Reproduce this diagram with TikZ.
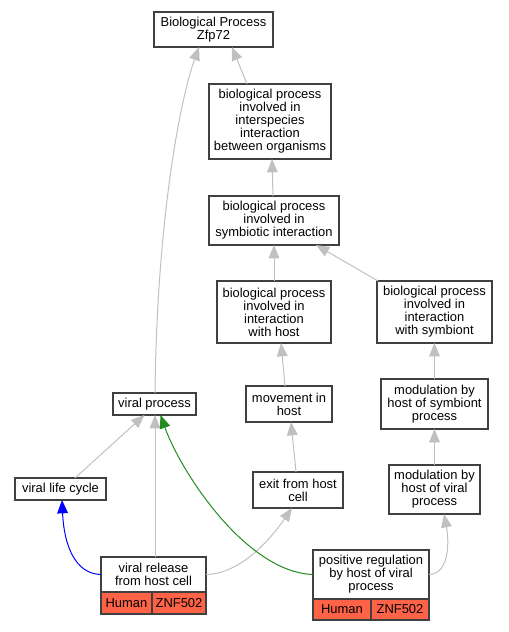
\documentclass[tikz,border=0pt]{standalone}
\usepackage{fontspec}
\setmainfont{Liberation Sans}
\usetikzlibrary{arrows.meta,calc,positioning}
\definecolor{edgegray}{HTML}{C0C0C0}
\definecolor{genered}{HTML}{FF6347}
\definecolor{boxline}{HTML}{404040}
\definecolor{regblue}{HTML}{0000FF}
\definecolor{reggreen}{HTML}{228B22}
\begin{document}
\begin{tikzpicture}[x=0.75pt,y=-0.75pt]
\tikzset{term/.style={draw=boxline,line width=1pt,fill=white,inner sep=0pt,outer sep=0pt,align=center,
                      font=\fontsize{9.7}{9.75}\selectfont},
         gene/.style={term,fill=genered,anchor=north west},
         isa/.style={draw=edgegray,line width=0.75pt,-{Triangle[length=10pt,width=8pt]}},
         reg/.style={isa,draw=#1,-{Triangle[length=10pt,width=8pt,fill=#1]}}}
\useasboundingbox (0,0) rectangle (508,632);

% GO terms
\node[term,minimum width=89.25pt,minimum height=26.25pt] (zfp)   at (213.5,29.5) {Biological Process\\Zfp72};
\node[term,minimum width=91.5pt,minimum height=56.25pt]  (inter) at (270,121.5) {biological process\\involved in\\interspecies\\interaction\\between organisms};
\node[term,minimum width=97.5pt,minimum height=36.75pt]  (symb)  at (274,220.5) {biological process\\involved in\\symbiotic interaction};
\node[term,minimum width=85.5pt,minimum height=46.5pt]   (host)  at (274,312) {biological process\\involved in\\interaction\\with host};
\node[term,minimum width=86.25pt,minimum height=46.5pt]  (symbt) at (434.5,312) {biological process\\involved in\\interaction\\with symbiont};
\node[term,minimum width=62.25pt,minimum height=16.5pt]  (vp)    at (154.5,404) {viral process};
\node[term,minimum width=64.5pt,minimum height=27pt]     (move)  at (289,404) {movement in\\host};
\node[term,minimum width=80.25pt,minimum height=37.5pt]  (modsp) at (434.5,404) {modulation by\\host of symbiont\\process};
\node[term,minimum width=68.25pt,minimum height=16.5pt]  (vlc)   at (60.5,489) {viral life cycle};
\node[term,minimum width=67.5pt,minimum height=27pt]     (exit)  at (298,490) {exit from host\\cell};
\node[term,minimum width=68.25pt,minimum height=36.75pt] (modvp) at (434.5,489.5) {modulation by\\host of viral\\process};

% annotated terms with their gene row
\node[term,minimum width=78.75pt,minimum height=26.25pt] (rel) at (153.5,574.5) {viral release\\from host cell};
\node[gene,minimum width=38.25pt,minimum height=16.5pt] (relhum) at (rel.south west) {Human};
\node[gene,minimum width=40.5pt,minimum height=16.5pt]  (relgen) at (relhum.north east) {ZNF502};
\node[term,minimum width=87pt,minimum height=36.75pt] (pos) at (371,574.5) {positive regulation\\by host of viral\\process};
\node[gene,minimum width=43.5pt,minimum height=15.75pt] (poshum) at (pos.south west) {Human};
\node[gene,minimum width=43.5pt,minimum height=15.75pt] (posgen) at (poshum.north east) {ZNF502};

% is_a edges
\foreach \a/\da/\b/\db in {inter/-23/zfp/18.5, symb/-1/inter/2, host/0/symb/0, symbt/-56.5/symb/42,
                           move/-4/host/7, modsp/0/symbt/0, exit/-2/move/2, modvp/0/modsp/0,
                           vlc/14.5/vp/-10, rel/1.5/vp/0.5}
{
    \draw[isa] ($(\a.north)+(\da,0)$) -- ($(\b.south)+(\db,0)$);
}
\draw[isa] ($(vp.north)+(0.5,0)$) .. controls (157,220) and (180,100) .. ($(zfp.south)+(-14.5,0)$);
\draw[isa] (rel.east) .. controls (240,574) and (270,540) .. ($(exit.south)+(-6,0)$);
\draw[isa] (pos.east) .. controls (450,574) and (449,540) .. ($(modvp.south)+(9.5,0)$);

% regulation edges
\draw[reg=regblue] (rel.west) .. controls (75,574) and (64,545) .. ($(vlc.south)+(1.5,0)$);
\draw[reg=reggreen] (pos.west) .. controls (245,572) and (180,470) .. ($(vp.south)+(6,0)$);
\end{tikzpicture}
\end{document}
